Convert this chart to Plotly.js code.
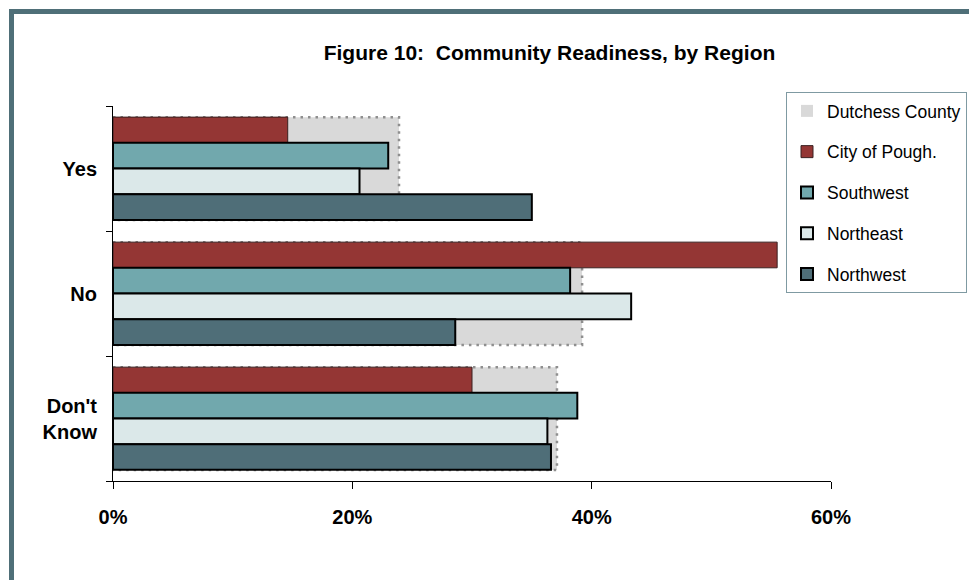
<!DOCTYPE html>
<html>
<head>
<meta charset="utf-8">
<script src="https://cdn.plot.ly/plotly-3.0.1.min.js"></script>
<style>
  html, body { margin: 0; padding: 0; background: #fff; }
  #wrap { position: relative; width: 969px; height: 580px; overflow: hidden; }
  #chart { width: 969px; height: 580px; }
  #frame { position: absolute; left: 9px; top: 9px; width: 980px; height: 600px;
           border-left: 5px solid #4f6f78; border-top: 5px solid #4f6f78; pointer-events: none; }
</style>
</head>
<body>
<div id="wrap">
  <div id="chart"></div>
  <div id="frame"></div>
</div>
<script>
// ---- data (percent) ----
const categories = ["Yes", "No", "Don't<br>Know"];
const seriesNames = ["Dutchess County", "City of Pough.", "Southwest", "Northeast", "Northwest"];
const dutchess  = [23.9, 39.2, 37.1];
const cityPough = [14.6, 55.5, 30.0];
const southwest = [23.0, 38.2, 38.8];
const northeast = [20.6, 43.3, 36.3];
const northwest = [35.0, 28.6, 36.6];
const xTicks = [0, 20, 40, 60];

// ---- styling ----
const FONT = "Liberation Sans, Arial, sans-serif";
const pos = categories.map((c, i) => i);
const groupHalf = 0.411;

// dotted outline of Dutchess County background bars
const ox = [], oy = [];
dutchess.forEach((v, i) => {
  ox.push(0, v, v, 0, null);
  oy.push(i - groupHalf, i - groupHalf, i + groupHalf, i + groupHalf, null);
});

const regionStyles = [
  { fill: "#943634", line: "#3a2020", w: 1 },
  { fill: "#71a8ad", line: "#000000", w: 2 },
  { fill: "#dbe8e9", line: "#000000", w: 2 },
  { fill: "#4f6e78", line: "#000000", w: 2 }
];
const regionData = [cityPough, southwest, northeast, northwest];

const traces = [];
traces.push({
  type: "bar", orientation: "h", name: seriesNames[0],
  x: dutchess, y: pos, xaxis: "x", yaxis: "y",
  width: groupHalf * 2,
  marker: { color: "#d9d9d9", line: { width: 0 } },
  legendgroup: "g0", hoverinfo: "skip"
});
traces.push({
  type: "scatter", mode: "lines", x: ox, y: oy, xaxis: "x", yaxis: "y",
  line: { color: "#8f8f8f", width: 2.5, dash: "2.5px,5px" },
  showlegend: false, hoverinfo: "skip", cliponaxis: false
});
regionData.forEach((arr, k) => {
  traces.push({
    type: "bar", orientation: "h", name: seriesNames[k + 1],
    x: arr, y: pos, xaxis: "x", yaxis: "y2",
    marker: { color: regionStyles[k].fill, line: { color: regionStyles[k].line, width: regionStyles[k].w } },
    legendgroup: "g" + (k + 1), hoverinfo: "skip"
  });
});

const yRange = [categories.length - 0.5, -0.5];
const boundaries = [];
for (let i = 0; i <= categories.length; i++) boundaries.push(i - 0.5);

const layout = {
  width: 969, height: 580,
  margin: { l: 113, r: 138, t: 106, b: 99, autoexpand: false },
  paper_bgcolor: "#ffffff", plot_bgcolor: "#ffffff",
  font: { family: FONT, color: "#000" },
  title: {
    text: "Figure 10:\u00a0 Community Readiness, by Region",
    x: 549.5 / 969, xanchor: "center", xref: "container",
    y: 1 - 53 / 580, yanchor: "middle", yref: "container",
    font: { family: FONT, size: 21, weight: "bold", color: "#000" }
  },
  barmode: "group",
  bargap: 0.178,
  xaxis: {
    range: [0, 60], tickvals: xTicks, ticktext: xTicks.map(t => t + "%"),
    ticks: "outside", ticklen: 7, tickcolor: "#000", tickwidth: 1,
    showline: true, linecolor: "#000", linewidth: 1,
    showgrid: false, zeroline: false, fixedrange: true, ticklabelstandoff: 11,
    tickfont: { family: FONT, size: 20, weight: "bold", color: "#000" }
  },
  yaxis: {
    range: yRange, tickmode: "array", tickvals: pos, ticktext: categories,
    ticks: "", showline: true, linecolor: "#000", linewidth: 1,
    showgrid: false, zeroline: false, fixedrange: true, ticklabelstandoff: 11,
    tickfont: { family: FONT, size: 20, weight: "bold", color: "#000" },
    minor: { tickmode: "array", tickvals: boundaries, ticks: "outside", ticklen: 6, tickcolor: "#000", tickwidth: 1, showgrid: false }
  },
  yaxis2: {
    overlaying: "y", range: yRange, visible: false, fixedrange: true
  },
  showlegend: true,
  legend: {
    x: (786 - 113) / 718, xanchor: "left",
    y: (481 - 92) / 375, yanchor: "top",
    bgcolor: "#ffffff", bordercolor: "#7f9aa2", borderwidth: 1,
    font: { family: FONT, size: 17.5, color: "#000" },
    traceorder: "grouped", tracegroupgap: 15, itemwidth: 30
  }
};

Plotly.newPlot("chart", traces, layout, { displayModeBar: false, staticPlot: true });
</script>
</body>
</html>
